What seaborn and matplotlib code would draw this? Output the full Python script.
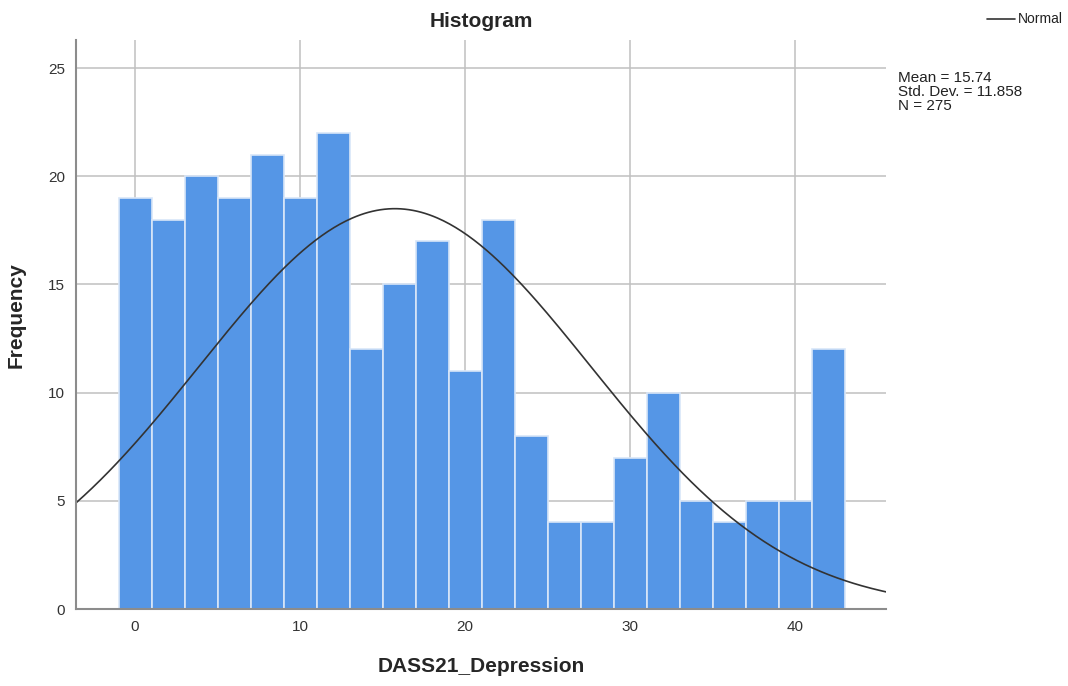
import numpy as np
import pandas as pd
import matplotlib
matplotlib.use("Agg")
import matplotlib.pyplot as plt
import seaborn as sns

# bin centres (width 2) and counts
bin_centers = [0, 2, 4, 6, 8, 10, 12, 14, 16, 18, 20, 22, 24, 26, 28, 30, 32, 34, 36, 38, 40, 42]
counts = [19, 18, 20, 19, 21, 19, 22, 12, 15, 17, 11, 18, 8, 4, 4, 7, 10, 5, 4, 5, 5, 12]
bin_width = 2

mean_val = 15.74
std_val = 11.858
n_val = 275

x_ticks = [0, 10, 20, 30, 40]
y_ticks = [0, 5, 10, 15, 20, 25]

sns.set_style("white")
plt.rcParams['font.family'] = ['Liberation Sans', 'DejaVu Sans']

fig = plt.figure(figsize=(10.68, 6.86), dpi=100)
ax = fig.add_axes([0.0712, 0.1122, 0.7584, 0.8295])

df = pd.DataFrame({'score': bin_centers, 'count': counts})
edges = [c - bin_width / 2 for c in bin_centers] + [bin_centers[-1] + bin_width / 2]

# grid first, bars over it
ax.set_axisbelow(True)
ax.grid(True, color='#c0c0c0', linewidth=1.1)

sns.histplot(data=df, x='score', weights='count', bins=edges, ax=ax,
             color='#5596e6', alpha=1.0, edgecolor='#d8e6f8', linewidth=1.2)

# fitted normal curve
xlim = (-3.58, 45.5)
xs = np.linspace(xlim[0], xlim[1], 400)
ys = n_val * bin_width / (std_val * np.sqrt(2 * np.pi)) * np.exp(-0.5 * ((xs - mean_val) / std_val) ** 2)
sns.lineplot(x=xs, y=ys, ax=ax, color='#333333', linewidth=1.2)

ax.set_xlim(*xlim)
ax.set_ylim(0, 26.3)
ax.set_xticks(x_ticks)
ax.set_yticks(y_ticks)
ax.tick_params(axis='both', length=0, labelsize=11, labelcolor='#333333', pad=8)

for side in ['top', 'right']:
    ax.spines[side].set_visible(False)
for side in ['left', 'bottom']:
    ax.spines[side].set_color('#8c8c8c')
    ax.spines[side].set_linewidth(1.5)

ax.set_title('Histogram', fontsize=15, fontweight='bold', pad=9)
ax.set_xlabel('DASS21_Depression', fontsize=15, fontweight='bold')
ax.set_ylabel('Frequency', fontsize=15, fontweight='bold')
ax.xaxis.set_label_coords(0.5, -0.084)
ax.yaxis.set_label_coords(-0.062, 0.517)

# legend and stats box on the right
fig.lines.append(plt.Line2D([987 / 1068, 1015 / 1068], [1 - 19 / 686, 1 - 19 / 686],
                            transform=fig.transFigure, color='#333333', linewidth=1.2))
fig.text(1018 / 1068, 1 - 19 / 686, 'Normal', fontsize=10, va='center', ha='left', color='#222222')
fig.text(898 / 1068, 1 - 71 / 686,
         f'Mean = {mean_val:.2f}\nStd. Dev. = {std_val:.3f}\nN = {n_val}',
         fontsize=11, va='top', ha='left', color='#222222', linespacing=1.0)

plt.savefig('out.png', dpi=100)
